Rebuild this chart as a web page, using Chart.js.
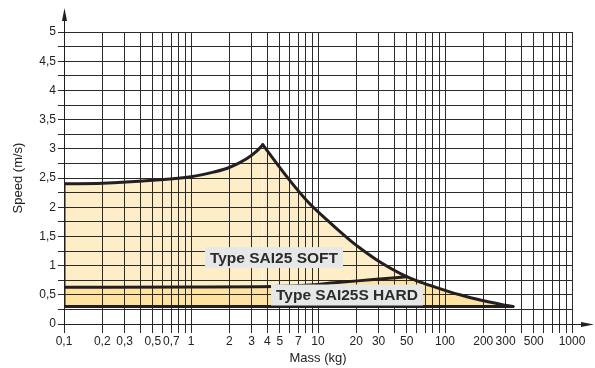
<!DOCTYPE html>
<html>
<head>
<meta charset="utf-8">
<script src="https://cdn.jsdelivr.net/npm/chart.js@4.4.1/dist/chart.umd.min.js"></script>
<style>
  html, body { margin: 0; padding: 0; background: #fff; }
  #wrap { width: 595px; height: 368px; position: relative; }
</style>
</head>
<body>
<div id="wrap"><canvas id="chart" width="595" height="368"></canvas></div>
<script>
// x axis: mass (kg), log scale
const massTicks = [0.1, 0.2, 0.3, 0.4, 0.5, 0.6, 0.7, 0.8, 0.9,
  1, 2, 3, 4, 5, 6, 7, 8, 9,
  10, 20, 30, 40, 50, 60, 70, 80, 90,
  100, 200, 300, 400, 500, 600, 700, 800, 900, 1000];
const massLabels = ['0,1', '0,2', '0,3', '', '0,5', '', '0,7', '', '',
  '1', '2', '3', '4', '5', '', '7', '', '',
  '10', '20', '30', '', '50', '', '', '', '',
  '100', '200', '300', '', '500', '', '', '', '', '1000'];

// y axis: speed (m/s)
const speedTicks = [0, 0.25, 0.5, 0.75, 1, 1.25, 1.5, 1.75, 2, 2.25, 2.5, 2.75,
  3, 3.25, 3.5, 3.75, 4, 4.25, 4.5, 4.75, 5];
const speedLabels = ['0', '', '0,5', '', '1', '', '1,5', '', '2', '', '2,5', '',
  '3', '', '3,5', '', '4', '', '4,5', '', '5'];

// SAI25 SOFT envelope, rising part up to the peak
const softRiseMass = [0.1, 0.2, 0.5, 1, 1.5, 2, 2.74, 3.29, 3.67];
const softRiseSpeed = [2.4, 2.41, 2.46, 2.52, 2.6, 2.68, 2.83, 2.96, 3.07];
// SAI25 SOFT envelope, falling part after the peak
const softFallMass = [3.67, 5.84, 8.39, 12.06, 14.9, 18.4, 21.4, 30.8, 49.9, 76.2, 109, 131, 189, 271, 343];
const softFallSpeed = [3.07, 2.49, 2.085, 1.76, 1.58, 1.41, 1.3, 1.06, 0.81, 0.66, 0.55, 0.5, 0.41, 0.34, 0.3];

// SAI25S HARD upper line, until it joins the soft curve
const hardMass = [0.1, 1, 4.4, 8, 14.9, 27.3, 49.9];
const hardSpeed = [0.63, 0.633, 0.64, 0.662, 0.715, 0.76, 0.81];

// common lower limit
const baseMass = [0.1, 343];
const baseSpeed = [0.3, 0.3];

const labelBoxes = [
  { text: 'Type SAI25 SOFT', mass: 4.5, speed: 1.137 },
  { text: 'Type SAI25S HARD', mass: 16.9, speed: 0.496 }
];

const INK = '#231f20';
const SOFT_FILL = '#feeec8';
const HARD_FILL = '#fde2a0';
const FONT = "'Liberation Sans', Arial, Helvetica, sans-serif";

function pts(xs, ys) {
  return xs.map((x, i) => ({ x: x, y: ys[i] }));
}

const hardTailMass = softFallMass.filter(m => m >= 49.9);
const hardTailSpeed = softFallSpeed.slice(softFallMass.length - hardTailMass.length);

const curve = {
  borderColor: INK,
  borderWidth: 3,
  pointRadius: 0,
  cubicInterpolationMode: 'monotone',
  borderCapStyle: 'round',
  borderJoinStyle: 'round'
};

const decorations = {
  id: 'decorations',
  afterDatasetsDraw(chart) {
    const ctx = chart.ctx;
    const xs = chart.scales.x, ys = chart.scales.y;
    const a = chart.chartArea;
    ctx.save();
    // axis arrows
    ctx.strokeStyle = INK;
    ctx.fillStyle = INK;
    ctx.lineWidth = 1;
    ctx.beginPath();
    ctx.moveTo(a.left + 0.5, a.top);
    ctx.lineTo(a.left + 0.5, a.top - 18);
    ctx.moveTo(a.right, a.bottom + 0.5);
    ctx.lineTo(a.right + 12, a.bottom + 0.5);
    ctx.stroke();
    ctx.beginPath();
    ctx.moveTo(a.left + 0.5, a.top - 24);
    ctx.lineTo(a.left + 3, a.top - 11);
    ctx.lineTo(a.left - 2, a.top - 11);
    ctx.closePath();
    ctx.fill();
    ctx.beginPath();
    ctx.moveTo(a.right + 22, a.bottom + 0.5);
    ctx.lineTo(a.right + 9, a.bottom + 3);
    ctx.lineTo(a.right + 9, a.bottom - 2);
    ctx.closePath();
    ctx.fill();
    // type labels
    ctx.font = 'bold 15.5px ' + FONT;
    ctx.textAlign = 'center';
    ctx.textBaseline = 'middle';
    labelBoxes.forEach(b => {
      const cx = xs.getPixelForValue(b.mass);
      const cy = ys.getPixelForValue(b.speed);
      const w = ctx.measureText(b.text).width + 10;
      ctx.fillStyle = '#e6e7e7';
      ctx.fillRect(cx - w / 2, cy - 10.5, w, 21);
      ctx.fillStyle = '#2b2b2b';
      ctx.fillText(b.text, cx, cy + 1);
    });
    ctx.restore();
  }
};

new Chart(document.getElementById('chart'), {
  type: 'line',
  data: {
    datasets: [
      Object.assign({}, curve, { data: pts(baseMass, baseSpeed), fill: false, order: 1 }),
      Object.assign({}, curve, { data: pts([0.1, 0.1], [0.3, 2.4]), fill: false, order: 1 }),
      Object.assign({}, curve, { data: pts(hardMass, hardSpeed), fill: { value: 0.3 }, backgroundColor: HARD_FILL, order: 2 }),
      Object.assign({}, curve, { data: pts(hardTailMass, hardTailSpeed), borderWidth: 0, fill: { value: 0.3 }, backgroundColor: HARD_FILL, order: 3 }),
      Object.assign({}, curve, { data: pts(softRiseMass, softRiseSpeed), fill: { value: 0.3 }, backgroundColor: SOFT_FILL, order: 4 }),
      Object.assign({}, curve, { data: pts(softFallMass, softFallSpeed), fill: { value: 0.3 }, backgroundColor: SOFT_FILL, order: 4 })
    ]
  },
  options: {
    responsive: false,
    animation: false,
    layout: { padding: { left: 0, top: 32, right: 23, bottom: 0 } },
    plugins: {
      legend: { display: false },
      tooltip: { enabled: false },
      filler: { drawTime: 'beforeDraw' }
    },
    scales: {
      x: {
        type: 'logarithmic',
        min: 0.1,
        max: 1000,
        afterBuildTicks: s => { s.ticks = massTicks.map(v => ({ value: v })); },
        afterFit: s => { s.height = 44; },
        ticks: {
          autoSkip: false,
          maxRotation: 0,
          padding: 1,
          color: '#222',
          font: { family: FONT, size: 12 },
          callback: (v, i) => massLabels[i]
        },
        grid: { color: '#2a2a2a', lineWidth: 1, tickLength: 9, drawTicks: true },
        border: { color: INK, width: 1 },
        title: {
          display: true,
          text: 'Mass (kg)',
          color: '#222',
          font: { family: FONT, size: 13 },
          padding: { top: 0, bottom: 2 }
        }
      },
      y: {
        type: 'linear',
        min: 0,
        max: 5,
        afterBuildTicks: s => { s.ticks = speedTicks.map(v => ({ value: v })); },
        afterFit: s => { s.width = 64; },
        ticks: {
          autoSkip: false,
          padding: 2,
          color: '#222',
          font: { family: FONT, size: 12 },
          callback: (v, i) => speedLabels[i]
        },
        grid: { color: '#2a2a2a', lineWidth: 1, tickLength: 6, drawTicks: true },
        border: { color: INK, width: 1 },
        title: {
          display: true,
          text: 'Speed (m/s)',
          color: '#222',
          font: { family: FONT, size: 13 },
          padding: { top: 11, bottom: 0 }
        }
      }
    }
  },
  plugins: [decorations]
});
</script>
</body>
</html>
